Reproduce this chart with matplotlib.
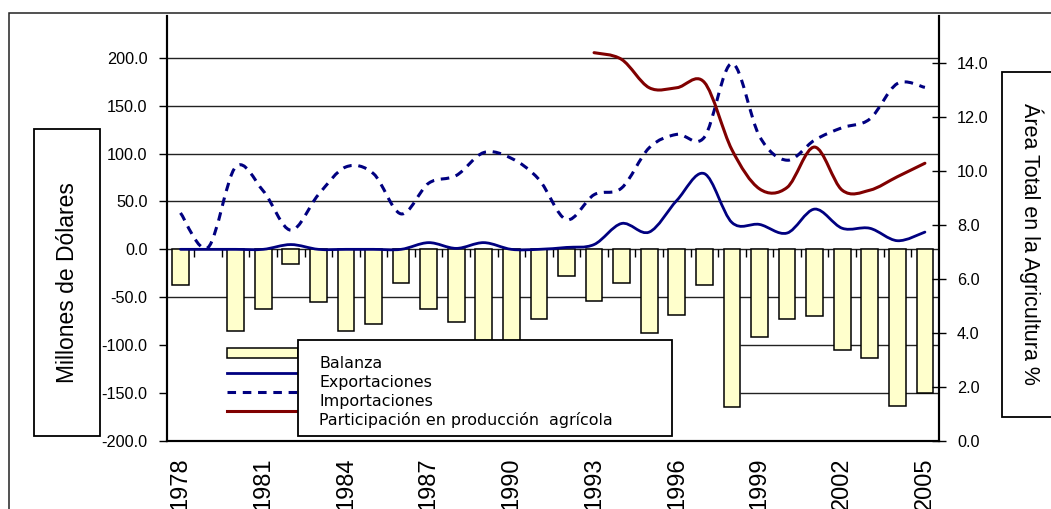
import matplotlib
matplotlib.use("Agg")
import matplotlib.pyplot as plt
from matplotlib.path import Path
from matplotlib.patches import PathPatch, Rectangle
from matplotlib.lines import Line2D
import numpy as np

plt.rcParams['font.family'] = ['Liberation Sans', 'DejaVu Sans']

# datos
years = list(range(1978, 2006))
balanza = [-37, 0, -85, -62, -15, -55, -85, -78, -35, -62, -76, -97, -96, -73,
           -28, -54, -35, -87, -69, -37, -165, -91, -73, -70, -105, -113, -163, -150]
exportaciones = [0, 0, 0, 0, 5, 0, 0, 0, 0, 7, 1, 7, 0, 0,
                 2, 5, 27, 18, 51, 79, 28, 26, 17, 42, 22, 22, 9, 18]
importaciones = [38, 2, 86, 61, 20, 57, 86, 79, 37, 69, 77, 101, 95, 73,
                 31, 57, 64, 106, 120, 117, 194, 118, 93, 114, 127, 136, 173, 169]
part_years = list(range(1993, 2006))
participacion = [14.4, 14.15, 13.1, 13.1, 13.3, 10.8, 9.35, 9.4, 10.9, 9.3, 9.3, 9.8, 10.3]

left_ticks = np.arange(-200, 201, 50)
right_ticks = np.arange(0, 14.1, 2)
legend_labels = ["Balanza", "Exportaciones", "Importaciones",
                 "Participación en producción  agrícola"]

W, H = 1051, 509


def fx(px):
    return px / W


def fy(py):
    return 1 - py / H


def smooth(xs, ys):
    # curva suavizada tipo excel (bezier por los puntos)
    n = len(xs)
    pts = np.column_stack([xs, ys]).astype(float)
    verts = [pts[0]]
    codes = [Path.MOVETO]
    for i in range(n - 1):
        p0 = pts[max(i - 1, 0)]
        p1 = pts[i]
        p2 = pts[i + 1]
        p3 = pts[min(i + 2, n - 1)]
        verts += [p1 + (p2 - p0) / 6, p2 - (p3 - p1) / 6, p2]
        codes += [Path.CURVE4] * 3
    return Path(verts, codes)


fig = plt.figure(figsize=(W / 100, H / 100), dpi=100)
ax = fig.add_axes([fx(166.7), fy(441), (938.7 - 166.7) / W, (441 - 16) / H])
ax2 = ax.twinx()

x = np.arange(len(years))
ax.set_xlim(-0.5, len(years) - 0.5)
ax.set_ylim(-200, 243.5)
ax2.set_ylim(0, 15.76)

# lineas de division
for v in left_ticks:
    if v in (-100, -150):
        x0 = years.index(1998) + 0.305
        ax.hlines(v, x0, len(years) - 0.5, color='#222222', lw=1.0, zorder=0.5)
    elif v > -200:
        ax.axhline(v, color='#222222', lw=1.0, zorder=0.5)

ax.bar(x, balanza, width=0.61, color='#FFFFCC', edgecolor='black', linewidth=1.1, zorder=2)

# marcas del eje en cero
ax.vlines(x[:-1] + 0.5, -8, 0, color='black', lw=1.0, zorder=1)

ax.add_patch(PathPatch(smooth(x, exportaciones), fill=False, ec='#000080', lw=2.0,
                       capstyle='round', joinstyle='round', zorder=3))
ax.add_patch(PathPatch(smooth(x, importaciones), fill=False, ec='#000080', lw=2.2,
                       linestyle=(0, (2.8, 2.2)), capstyle='butt', zorder=3))
px = [years.index(y) for y in part_years]
ax2.add_patch(PathPatch(smooth(px, participacion), fill=False, ec='#800000', lw=2.2,
                        capstyle='round', joinstyle='round', zorder=3))

for a in (ax, ax2):
    a.spines['top'].set_visible(False)
    for s in ('left', 'right', 'bottom'):
        a.spines[s].set_linewidth(1.5)
        a.spines[s].set_color('black')

ax.set_yticks(left_ticks)
ax.set_yticklabels([f"{v:.1f}" for v in left_ticks])
ax.tick_params(axis='y', direction='out', length=5.8, width=1, pad=7.9, labelsize=11.7)
ax2.set_yticks(right_ticks)
ax2.set_yticklabels([f"{v:.1f}" for v in right_ticks])
ax2.tick_params(axis='y', direction='inout', length=10.6, width=1, pad=7.9, labelsize=11.7)

ax.set_xticks(x[::3])
ax.set_xticklabels([str(y) for y in years[::3]], rotation=90,
                   family=['Liberation Sans Narrow', 'Liberation Sans'], fontsize=17)
ax.tick_params(axis='x', length=0, pad=12)

# leyenda
fig.add_artist(Rectangle((fx(226.7), fy(358.3)), (297.7 - 226.7) / W, 10 / H,
                         transform=fig.transFigure, fc='#FFFFCC', ec='black', lw=1.1, zorder=9))
key_y = [372.7, 391.7, 411]
key_styles = [dict(color='#000080', lw=2.0),
              dict(color='#000080', lw=2.2, linestyle=(0, (2.8, 2.2))),
              dict(color='#800000', lw=2.2)]
for ky, st in zip(key_y, key_styles):
    fig.add_artist(Line2D([fx(226.7), fx(297.7)], [fy(ky), fy(ky)],
                          transform=fig.transFigure, zorder=9, **st))
fig.add_artist(Rectangle((fx(297.7), fy(436)), (672 - 297.7) / W, (436 - 340) / H,
                         transform=fig.transFigure, fc='white', ec='black', lw=1.3, zorder=10))
for lab, by in zip(legend_labels, [367.7, 386.9, 405.9, 424.9]):
    fig.text(fx(319.3), fy(by), lab, fontsize=11.4, family='DejaVu Sans',
             va='baseline', ha='left', zorder=11)

# titulos de ejes en cajas
fig.add_artist(Rectangle((fx(34.3), fy(435.7)), (100 - 34.3) / W, (435.7 - 129) / H,
                         transform=fig.transFigure, fc='white', ec='black', lw=1.3, zorder=5))
fig.text(fx(67.2), fy(282.4), "Millones de Dólares", rotation=90, fontsize=16.5,
         ha='center', va='center', zorder=6)
fig.add_artist(Rectangle((fx(1001.7), fy(416.7)), 80 / W, (416.7 - 72) / H,
                         transform=fig.transFigure, fc='white', ec='black', lw=1.3, zorder=5))
fig.text(fx(1031.7), fy(244.2), "Área Total en la Agricultura %", rotation=270, fontsize=15.5,
         ha='center', va='center', zorder=6)

# marco exterior
fig.add_artist(Rectangle((fx(9.3), fy(560)), 1100 / W, (560 - 13.3) / H,
                         transform=fig.transFigure, fill=False, ec='#222222', lw=1.1, zorder=1))

fig.savefig("out.png", dpi=100)
